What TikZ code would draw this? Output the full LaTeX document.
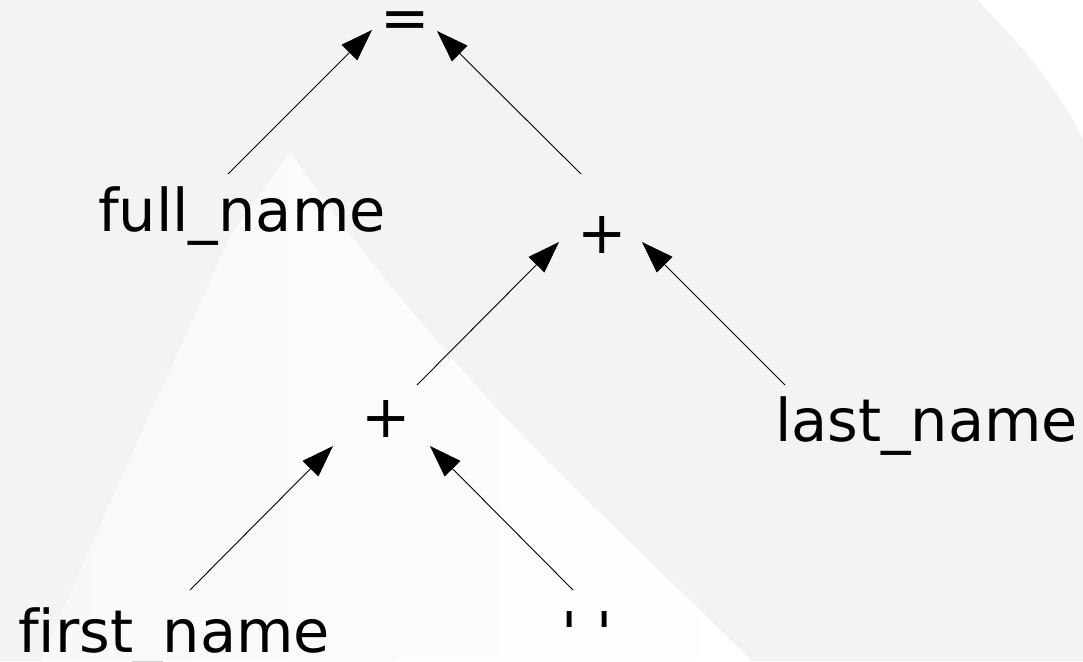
\documentclass[tikz,border=0pt]{standalone}
\usepackage{fontspec}
\setmainfont[Ligatures=CommonOff]{DejaVu Sans}
\usetikzlibrary{arrows.meta}

\definecolor{paper}{HTML}{F5F2F2}
\definecolor{paperlight}{HTML}{F9F8F8}
\definecolor{ink}{HTML}{000000}

\tikzset{
  lbl/.style={inner sep=0pt, outer sep=0pt, text=ink,
    font=\fontsize{59}{70}\selectfont},
  arr/.style={draw=ink, line width=0.9pt,
    -{Triangle[length=32pt,width=22pt]}},
}

\begin{document}
\begin{tikzpicture}[x=1pt,y=-1pt]
  % backdrop
  \fill[paper] (0,0) rectangle (1083,661);
  \useasboundingbox (0,0) rectangle (1083,661);
  \fill[white] (978,0) .. controls (1015,40) and (1055,80) .. (1083,140) -- (1083,0) -- cycle;
  \shade[left color=paperlight, right color=white]
    (290,152) .. controls (340,225) and (450,370) .. (600,513)
    -- (752,661) -- (40,661) -- (120,480) -- (230,237) -- cycle;

  % expression tree
  \node[lbl, anchor=base] (eq) at (405,39) {=};
  \node[lbl, anchor=base west] (full) at (98,231) {full\_name};
  \node[lbl, anchor=base] (plusA) at (602,253) {+};
  \node[lbl, anchor=base] (plusB) at (386,437) {+};
  \node[lbl, anchor=base west] (last) at (775,441) {last\_name};
  \node[lbl, anchor=base west] (first) at (18,652) {first\_name};
  \node[lbl, anchor=base] (space) at (587,654) {\textquotesingle\ \textquotesingle};

  \draw[arr] ([shift={(130,-57)}]full.base west) -- ([shift={(-33,-9)}]eq.base);
  \draw[arr] ([shift={(-21,-79)}]plusA.base) -- ([shift={(32,-8)}]eq.base);
  \draw[arr] ([shift={(31,-52)}]plusB.base) -- ([shift={(-43,-11)}]plusA.base);
  \draw[arr] ([shift={(10,-56)}]last.base west) -- ([shift={(40,-11)}]plusA.base);
  \draw[arr] ([shift={(172,-62)}]first.base west) -- ([shift={(-53,9)}]plusB.base);
  \draw[arr] ([shift={(-14,-64)}]space.base) -- ([shift={(44,9)}]plusB.base);
\end{tikzpicture}
\end{document}
